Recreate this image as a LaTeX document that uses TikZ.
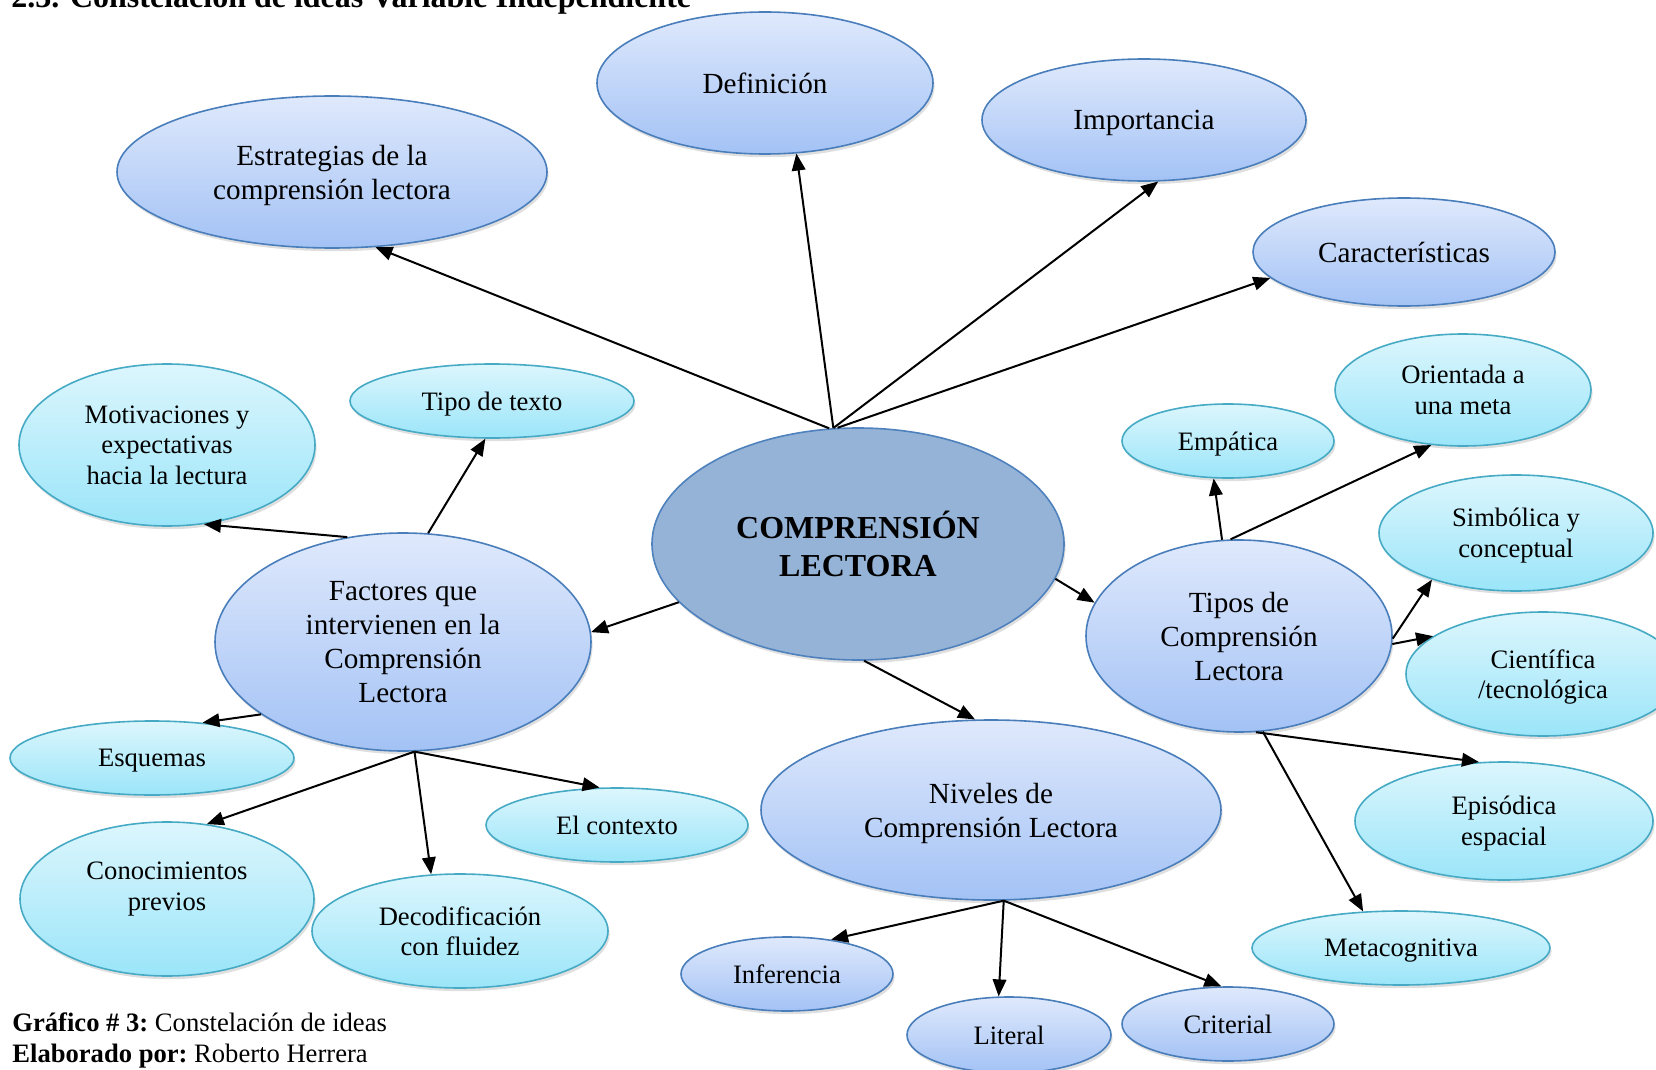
\documentclass[tikz,border=0pt]{standalone}
\usepackage{fontspec}
\setmainfont{Liberation Serif}
\usetikzlibrary{shapes.geometric,arrows.meta,shadows}

\definecolor{mainfill}{HTML}{95B3D7}
\definecolor{mainedge}{HTML}{4F81BD}
\definecolor{bluetop}{HTML}{DFE9FC}
\definecolor{bluebottom}{HTML}{A3C2F5}
\definecolor{blueedge}{HTML}{4A7EBB}
\definecolor{cyantop}{HTML}{DCF6FD}
\definecolor{cyanbottom}{HTML}{9BE5F9}
\definecolor{cyanedge}{HTML}{46AAC5}

\begin{document}
\begin{tikzpicture}[x=0.5pt, y=-0.5pt,
    dims/.style 2 args={minimum width=#1*0.5pt, minimum height=#2*0.5pt},
    bubble/.style={ellipse, line width=0.8pt, inner sep=0pt, align=center,
        drop shadow={shadow xshift=0.8pt, shadow yshift=-1.6pt, opacity=0.25}},
    mainbubble/.style={bubble, draw=mainedge, fill=mainfill,
        font=\fontsize{16}{19}\selectfont\bfseries},
    bluebubble/.style={bubble, draw=blueedge, top color=bluetop, bottom color=bluebottom},
    cyanbubble/.style={bubble, draw=cyanedge, top color=cyantop, bottom color=cyanbottom},
    bigtext/.style={text depth=0pt, font=\fontsize{14.6}{17}\selectfont},
    smalltext/.style={text depth=0pt, font=\fontsize{13.3}{15.3}\selectfont},
    captext/.style={anchor=base west, inner sep=0pt, font=\fontsize{13.3}{15.3}\selectfont},
    link/.style={-{Triangle[length=8.5pt, width=6.8pt]}, line width=1pt}]
    \useasboundingbox (0,0) rectangle (1656,1070);

    % Title and caption
    \node [anchor=base west, inner sep=0pt, font=\fontsize{16}{19}\selectfont\bfseries] (title) at (11,8) {2.3. Constelación de ideas Variable Independiente};
    \node [captext] (figcap) at (12,1031) {\textbf{Gráfico \# 3:}\ Constelación de ideas};
    \node [captext] (authcap) at (12,1062) {\textbf{Elaborado por:}\ Roberto Herrera};

    % Central idea
    \node [mainbubble, dims={412}{232}] (cen) at (858,544) {COMPRENSIÓN\\LECTORA};

    % Second level
    \node [bluebubble, bigtext, dims={430}{152}] (estr) at (332,172) {Estrategias de la\\comprensión lectora};
    \node [bluebubble, bigtext, dims={336}{142}] (defi) at (765,83) {Definición};
    \node [bluebubble, bigtext, dims={324}{122}] (impo) at (1144,120) {Importancia};
    \node [bluebubble, bigtext, dims={302}{108}] (cara) at (1404,252) {Características};
    \node [bluebubble, bigtext, dims={376}{218}] (fact) at (403,642) {Factores que\\intervienen en la\\Comprensión\\Lectora};
    \node [bluebubble, bigtext, dims={306}{192}] (tipos) at (1239,636) {Tipos de\\Comprensión\\Lectora};
    \node [bluebubble, bigtext, dims={460}{180}] (nive) at (991,810) {Niveles de\\Comprensión Lectora};

    % Third level (Factores)
    \node [cyanbubble, smalltext, dims={284}{74}] (ttex) at (492,401) {Tipo de texto};
    \node [cyanbubble, smalltext, dims={296}{162}] (moti) at (167,445) {Motivaciones y\\expectativas\\hacia la lectura};
    \node [cyanbubble, smalltext, dims={284}{74}] (esqu) at (152,758) {Esquemas};
    \node [cyanbubble, smalltext, dims={294}{154}] (cono) at (167,899) {Conocimientos\\previos\\[-2.6pt]};
    \node [cyanbubble, smalltext, dims={296}{114}] (deco) at (460,931) {Decodificación\\con fluidez};
    \node [cyanbubble, smalltext, dims={262}{74}] (ctx) at (617,825) {El contexto};

    % Third level (Niveles)
    \node [bluebubble, smalltext, dims={212}{74}] (infe) at (787,974) {Inferencia};
    \node [bluebubble, smalltext, dims={204}{76}] (lite) at (1009,1035) {Literal};
    \node [bluebubble, smalltext, dims={212}{74}] (crit) at (1228,1024) {Criterial};

    % Third level (Tipos)
    \node [cyanbubble, smalltext, dims={212}{74}] (empa) at (1228,441) {Empática};
    \node [cyanbubble, smalltext, dims={256}{112}] (orie) at (1463,390) {Orientada a\\una meta};
    \node [cyanbubble, smalltext, dims={274}{116}] (simb) at (1516,533) {Simbólica y\\conceptual};
    \node [cyanbubble, smalltext, dims={274}{124}] (cien) at (1543,674) {Científica\\/tecnológica};
    \node [cyanbubble, smalltext, dims={298}{118}] (epis) at (1504,821) {Episódica\\espacial};
    \node [cyanbubble, smalltext, dims={298}{74}] (meta) at (1401,948) {Metacognitiva};

    % Links from the centre
    \draw [link] (cen.104) -- (estr.300);
    \draw [link] (cen.102) -- (defi.294);
    \draw [link] (cen.102) -- (impo.283);
    \draw [link] (cen.100) -- (cara.191);
    \draw [link] (cen.198) -- (fact.3);
    \draw [link] (cen.350) -- (tipos.167);
    \draw [link] (cen.273) -- (nive.100);

    % Links from Factores
    \draw [link] (fact.118) -- (moti.295);
    \draw [link] (fact.77) -- (ttex.260);
    \draw [link] (fact.207) -- (esqu.35);
    \draw [link] (fact.276) -- (cono.62);
    \draw [link] (fact.276) -- (deco.117);
    \draw [link] (fact.276) -- (ctx.115);

    % Links from Niveles
    \draw [link] (nive.278) -- (infe.38);
    \draw [link] (nive.278) -- (lite.105);
    \draw [link] (nive.278) -- (crit.100);

    % Links from Tipos
    \draw [link] (tipos.100) -- (empa.249);
    \draw [link] (tipos.95) -- (orie.240);
    \draw [link] (tipos.359) -- (simb.209);
    \draw [link] (tipos.357) -- (cien.161);
    \draw [link] (tipos.280) -- (epis.113);
    \draw [link] (tipos.284) -- (meta.136);
\end{tikzpicture}
\end{document}
